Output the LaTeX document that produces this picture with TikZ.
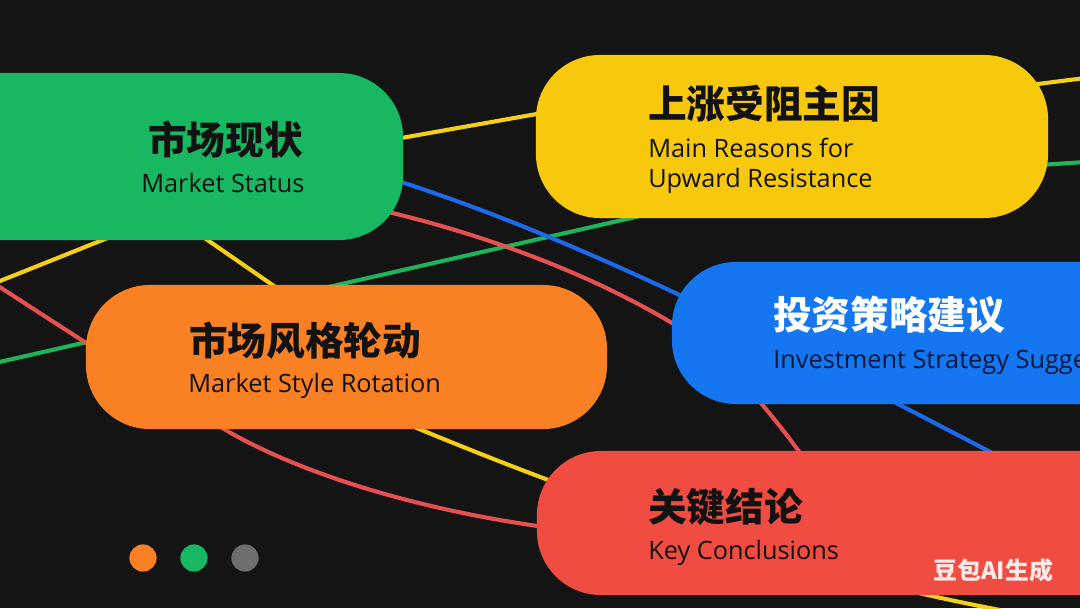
\documentclass[tikz,border=0pt]{standalone}
\usepackage{fontspec}
\setmainfont{Open Sans}
\newfontfamily\cjk{Noto Sans CJK SC}
\usetikzlibrary{backgrounds}
\definecolor{bgc}{RGB}{20,20,20}
\definecolor{pgreen}{RGB}{24,183,98}
\definecolor{pyellow}{RGB}{247,200,12}
\definecolor{porange}{RGB}{250,128,36}
\definecolor{pblue}{RGB}{20,118,240}
\definecolor{pred}{RGB}{240,76,66}
\definecolor{lyel}{RGB}{245,208,22}
\definecolor{lblue}{RGB}{28,106,235}
\definecolor{lred}{RGB}{230,80,80}
\definecolor{lgreen}{RGB}{30,180,92}
\definecolor{dgray}{RGB}{110,110,110}
\definecolor{txt}{RGB}{18,18,18}
\definecolor{navy}{RGB}{10,24,60}
\tikzset{
  pill/.style={rectangle, rounded corners=1.6cm, draw=none, inner sep=0pt},
  zh/.style={anchor=west, inner sep=0pt, text=txt, font=\cjk\bfseries\fontsize{27.5}{30}\selectfont},
  en/.style={anchor=base west, inner sep=0pt, text=txt, font=\fontsize{18}{21}\selectfont},
  ln/.style={line width=2.9pt},
  dot/.style={circle, inner sep=0pt, minimum size=0.68cm},
}
\begin{document}
\begin{tikzpicture}[x=0.025cm,y=-0.025cm]
\useasboundingbox (0,0) rectangle (1080,608);
% pills
\node[pill, fill=pgreen, minimum width=12.575cm, minimum height=4.175cm] (status) at (151.5,156.5) {};
\node[pill, fill=pyellow, minimum width=12.8cm, minimum height=4.075cm] (reasons) at (792,136.5) {};
\node[pill, fill=porange, minimum width=13.025cm, minimum height=3.6cm] (style) at (346.5,357) {};
\node[pill, fill=pblue, minimum width=13.2cm, minimum height=3.55cm] (strategy) at (936,333) {};
\node[pill, fill=pred, minimum width=16.575cm, minimum height=3.6cm] (key) at (868.5,523) {};
% texts
\node[zh] (t1) at (148,140) {市场现状};
\node[en] (e1) at (141,192) {Market Status};
\node[zh] (t2) at (648,104) {上涨受阻主因};
\node[en] (e2a) at (648,157) {Main Reasons for};
\node[en] (e2b) at (648,187) {Upward Resistance};
\node[zh] (t3) at (189,341) {市场风格轮动};
\node[en] (e3) at (188,392) {Market Style Rotation};
\node[zh, text=white] (t4) at (773,315) {投资策略建议};
\node[en, text=navy] (e4) at (773,368) {Investment Strategy Suggestions};
\node[zh] (t5) at (648,507) {关键结论};
\node[en] (e5) at (648,559) {Key Conclusions};
% dots
\node[dot, fill=porange] (d1) at (143,558) {};
\node[dot, fill=pgreen] (d2) at (194,558) {};
\node[dot, fill=dgray] (d3) at (245,558) {};
% watermark
\node[anchor=west, inner sep=0pt, text=white, opacity=0.88, font=\cjk\bfseries\fontsize{17}{17}\selectfont] (wm) at (933,570) {豆包AI生成};
% connectors behind
\begin{pgfonlayer}{background}
\fill[bgc] (0,0) rectangle (1080,608);
\coordinate (a1) at (390,140); \coordinate (a2) at (548,112);
\coordinate (b1) at (1030,85); \coordinate (b2) at (1085,78);
\coordinate (c1) at (1040,165); \coordinate (c2) at (1085,162);
\coordinate (g1) at (-5,363); \coordinate (g2) at (640,216);
\coordinate (e1s) at (-5,283); \coordinate (e1e) at (150,221);
\coordinate (f1s) at (180,221); \coordinate (f1e) at (300,304);
\coordinate (f2s) at (400,421); \coordinate (f2e) at (1000,610);
\coordinate (bl1) at (395,180); \coordinate (bl2) at (1000,457);
\coordinate (r1) at (380,210); \coordinate (rm) at (672,323); \coordinate (r2) at (805,460);
\coordinate (q1) at (-5,284); \coordinate (qm) at (224,429); \coordinate (q2) at (545,527);
\draw[ln, lyel] (a1) -- (a2);
\draw[ln, lyel] (b1) -- (b2);
\draw[ln, lgreen] (c1) -- (c2);
\draw[ln, lgreen] (g1) -- (g2);
\draw[ln, lyel] (e1s) -- (e1e);
\draw[ln, lyel] (f1s) -- (f1e);
\draw[ln, lyel] (f2s) .. controls (600,505) and (800,572) .. (f2e);
\draw[ln, lblue] (bl1) .. controls (595,244) and (800,353) .. (bl2);
\draw[ln, lred] (r1) .. controls (500,238) and (600,280) .. (rm) .. controls (720,352) and (770,410) .. (r2);
\draw[ln, lred] (q1) .. controls (60,326) and (150,385) .. (qm) .. controls (300,474) and (420,510) .. (q2);
\end{pgfonlayer}
\end{tikzpicture}
\end{document}
